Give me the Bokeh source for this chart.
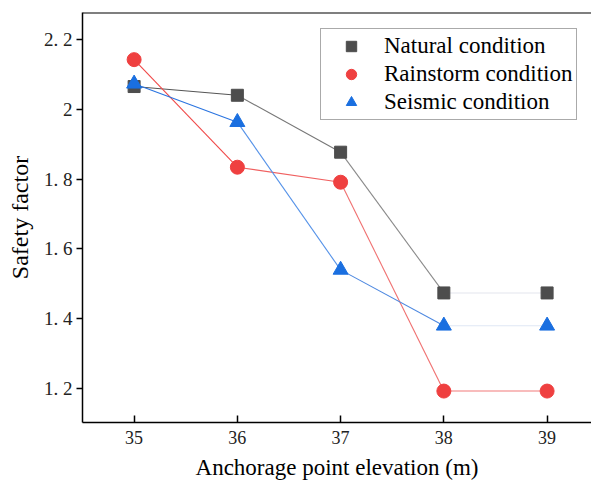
from bokeh.plotting import figure
from bokeh.models import Span, Legend, LegendItem, FixedTicker, Range1d
from bokeh.embed import file_html
from bokeh.resources import INLINE

elevation = [35, 36, 37, 38, 39]
natural = [2.065, 2.040, 1.877, 1.474, 1.474]
rainstorm = [2.142, 1.834, 1.791, 1.193, 1.193]
seismic = [2.073, 1.963, 1.540, 1.380, 1.380]

y_ticks = [1.2, 1.4, 1.6, 1.8, 2.0, 2.2]
y_tick_labels = {1.2: "1. 2", 1.4: "1. 4", 1.6: "1. 6", 1.8: "1. 8", 2.0: "2", 2.2: "2. 2"}
x_ticks = [35, 36, 37, 38, 39]

FONT = "Liberation Serif"

p = figure(width=591, height=494, output_backend="svg", toolbar_location=None,
           x_range=Range1d(34.5, 39.43), y_range=Range1d(1.103, 2.277),
           min_border_left=82, min_border_right=0, min_border_top=12, min_border_bottom=72)
p.outline_line_color = None
p.xgrid.visible = False
p.ygrid.visible = False
p.background_fill_color = "white"
p.border_fill_color = "white"

# axes
p.xaxis.ticker = FixedTicker(ticks=x_ticks)
p.yaxis.ticker = FixedTicker(ticks=y_ticks)
p.yaxis.major_label_overrides = y_tick_labels
for ax in (p.xaxis[0], p.yaxis[0]):
    ax.axis_line_color = "black"
    ax.axis_line_width = 1.5
    ax.major_tick_line_color = "black"
    ax.major_tick_line_width = 1.5
    ax.minor_tick_line_color = None
    ax.major_label_text_font = FONT
    ax.major_label_text_color = "#222222"
    ax.axis_label_text_font = FONT
    ax.axis_label_text_font_style = "normal"
    ax.axis_label_text_color = "black"
p.xaxis.major_label_text_font_size = "18px"
p.yaxis.major_label_text_font_size = "19px"
p.xaxis.axis_label_text_font_size = "23px"
p.yaxis.axis_label_text_font_size = "24px"
p.xaxis.major_tick_in = 7
p.xaxis.major_tick_out = 0
p.yaxis.major_tick_in = 0
p.yaxis.major_tick_out = 6
p.xaxis.axis_label = "Anchorage point elevation (m)"
p.yaxis.axis_label = "Safety factor"
p.xaxis.major_label_standoff = 8
p.xaxis.axis_label_standoff = 8
p.yaxis.major_label_standoff = 4
p.yaxis.axis_label_standoff = 8

top = Span(location=2.277, dimension="width", line_color="black", line_width=2)
p.add_layout(top)

def segs(ys):
    return dict(x0=elevation[:-1], x1=elevation[1:], y0=ys[:-1], y1=ys[1:])

p.segment(**segs(natural), line_color=["#555555", "#777777", "#8a8a8a", "#e4e6ee"], line_width=1.1)
p.segment(**segs(rainstorm), line_color=["#f04848", "#f06060", "#f07070", "#f27a7a"], line_width=1.1)
p.segment(**segs(seismic), line_color=["#2a74e0", "#5592e8", "#4d88e0", "#dfe7f4"], line_width=1.1)

nat_pts = p.scatter(elevation, natural, marker="square", size=12, fill_color="#4d4d4d", line_color="#4d4d4d")
rain_pts = p.scatter(elevation, rainstorm, marker="circle", size=14, fill_color="#ef4040", line_color="#ef4040")
seis_pts = p.scatter(elevation, seismic, marker="triangle", size=15, fill_color="#1a6fe0", line_color="#1a6fe0")

rain_leg_line = p.line([], [], line_color="#f07070", line_width=1.5)

legend = Legend(items=[
    LegendItem(label="Natural condition", renderers=[nat_pts]),
    LegendItem(label="Rainstorm condition", renderers=[rain_leg_line, rain_pts]),
    LegendItem(label="Seismic condition", renderers=[seis_pts]),
], location=(238, 302))
legend.label_text_font = FONT
legend.label_text_font_size = "23px"
legend.label_text_color = "black"
legend.glyph_width = 52
legend.glyph_height = 26
legend.label_height = 26
legend.spacing = 2
legend.padding = 4
legend.margin = 0
legend.label_standoff = 7
legend.border_line_color = "#555555"
legend.border_line_width = 1
legend.background_fill_color = "white"
p.add_layout(legend)

open("out.html", "w").write(file_html(p, INLINE))
